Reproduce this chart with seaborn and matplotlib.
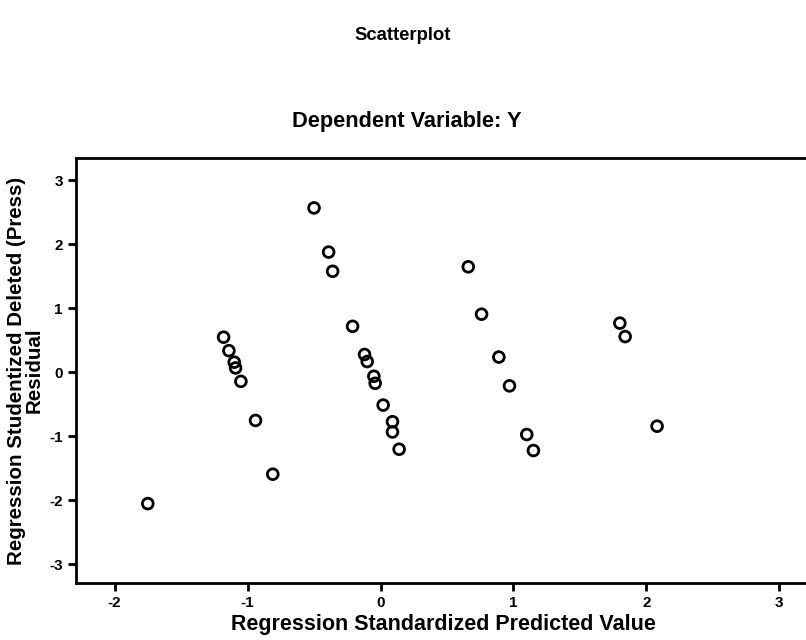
import matplotlib
matplotlib.use("Agg")
import matplotlib.pyplot as plt
import seaborn as sns
import pandas as pd

# Standardized predicted values (x) and studentized deleted residuals (y)
pred = [-0.50, -0.39, -0.36, -0.21, -1.18, -1.14, -1.10, -1.09, -1.05,
        -0.12, -0.10, -0.05, -0.04, 0.02, -0.94, 0.09, 0.09, 0.14,
        -0.81, -1.75,
        0.66, 0.76, 0.89, 0.97, 1.10, 1.15, 1.80, 1.84, 2.08]
resid = [2.57, 1.88, 1.58, 0.72, 0.55, 0.34, 0.16, 0.07, -0.14,
         0.28, 0.17, -0.06, -0.17, -0.51, -0.75, -0.77, -0.93, -1.20,
         -1.59, -2.05,
         1.65, 0.91, 0.24, -0.21, -0.97, -1.22, 0.77, 0.56, -0.84]

x_ticks = [-2, -1, 0, 1, 2, 3]
y_ticks = [-3, -2, -1, 0, 1, 2, 3]

df = pd.DataFrame({"pred": pred, "resid": resid})

sns.set_style("white")
plt.rcParams["font.family"] = ["Liberation Sans", "DejaVu Sans"]
plt.rcParams["font.weight"] = "bold"
plt.rcParams["text.color"] = "black"
plt.rcParams["axes.labelcolor"] = "black"
plt.rcParams["xtick.color"] = "black"
plt.rcParams["ytick.color"] = "black"
plt.rcParams["axes.unicode_minus"] = False

fig = plt.figure(figsize=(8.06, 6.4), dpi=100)
ax = fig.add_axes([76 / 806, 57 / 640, 734 / 806, 425 / 640])

sns.scatterplot(data=df, x="pred", y="resid", ax=ax, marker="o", s=60,
                facecolors="none", edgecolor="black", linewidth=2)

ax.set_xlim(-2.29, 3.23)
ax.set_ylim(-3.29, 3.35)
ax.set_xticks(x_ticks)
ax.set_yticks(y_ticks)
ax.tick_params(axis="both", direction="out", length=6, width=2, labelsize=11,
               bottom=True, left=True)
for side in ["left", "bottom", "top", "right"]:
    ax.spines[side].set_linewidth(2)
    ax.spines[side].set_color("black")

ax.set_xlabel("Regression Standardized Predicted Value", fontsize=15.5,
              fontweight="bold", labelpad=3)
ax.set_ylabel("Regression Studentized Deleted (Press)\nResidual", fontsize=14.8,
              fontweight="bold", labelpad=4, linespacing=0.9)

fig.text(0.5, 1 - 35 / 640, "Scatterplot", ha="center", va="center",
         fontsize=13.3, fontweight="bold")
fig.text(0.505, 1 - 122 / 640, "Dependent Variable: Y", ha="center", va="center",
         fontsize=15.7, fontweight="bold")

fig.savefig("out.png", dpi=100)
